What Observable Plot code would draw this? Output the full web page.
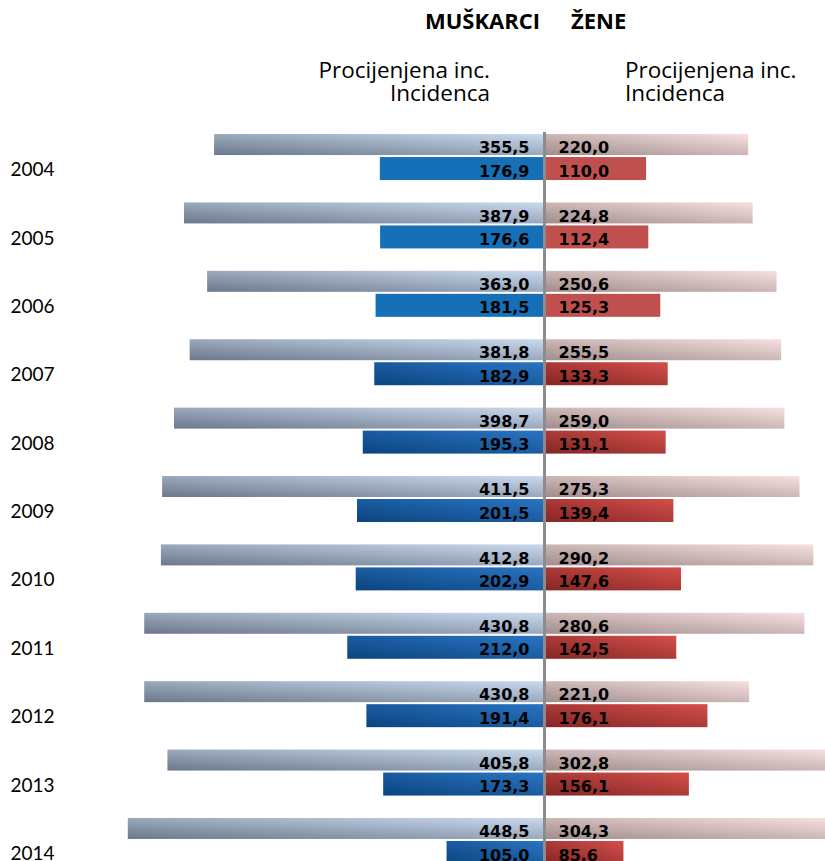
<!DOCTYPE html>
<html>
<head>
<meta charset="utf-8">
<script src="https://cdn.jsdelivr.net/npm/d3@7"></script>
<script src="https://cdn.jsdelivr.net/npm/@observablehq/plot@0.6"></script>
<style>
  html, body { margin: 0; padding: 0; background: #fff; }
  #head { position: relative; width: 825px; height: 125px; font-family: "Open Sans", Lato, sans-serif; color: #000; }
  #head div { position: absolute; white-space: nowrap; }
  .t { font-weight: bold; font-size: 22px; line-height: 22px; }
  .l { font-size: 22.5px; line-height: 23px; }
  #chart svg { display: block; }
</style>
</head>
<body>
<div id="head">
  <div class="t" style="right:285px; top:9px;">MUŠKARCI</div>
  <div class="t" style="left:571px; top:9px;">ŽENE</div>
  <div class="l" style="right:335px; top:58px; text-align:right;">Procijenjena inc.<br>Incidenca</div>
  <div class="l" style="left:625px; top:58px; text-align:left;">Procijenjena inc.<br>Incidenca</div>
</div>
<div id="chart"></div>
<script>
// ---- data ----
const years = [2004, 2005, 2006, 2007, 2008, 2009, 2010, 2011, 2012, 2013, 2014];
const menEstimated = [355.5, 387.9, 363.0, 381.8, 398.7, 411.5, 412.8, 430.8, 430.8, 405.8, 448.5];
const menIncidence = [176.9, 176.6, 181.5, 182.9, 195.3, 201.5, 202.9, 212.0, 191.4, 173.3, 105.0];
const womenEstimated = [220.0, 224.8, 250.6, 255.5, 259.0, 275.3, 290.2, 280.6, 221.0, 302.8, 304.3];
const womenIncidence = [110.0, 112.4, 125.3, 133.3, 131.1, 139.4, 147.6, 142.5, 176.1, 156.1, 85.6];

const rows = years.map((y, i) => ({
  year: y,
  menEst: menEstimated[i],
  menInc: menIncidence[i],
  womenEst: womenEstimated[i],
  womenInc: womenIncidence[i]
}));

const fmt = v => v.toFixed(1).replace(".", ",");

function defs() {
  const d = d3.create("svg:defs");
  const grad = (id, c0, c1) => {
    const g = d.append("linearGradient").attr("id", id)
      .attr("x1", 0).attr("y1", 1).attr("x2", 1).attr("y2", 0);
    g.append("stop").attr("offset", "0").attr("stop-color", c0);
    g.append("stop").attr("offset", "1").attr("stop-color", c1);
  };
  grad("gMenEst", "#6c788b", "#c9d9ee");
  grad("gWomenEst", "#a08c8c", "#f7e0e0");
  grad("gMenInc", "#0b447f", "#2a74c2");
  grad("gWomenInc", "#832624", "#d44e4a");
  return d.node();
}

const flat = d => d.year <= 2006;
const grad = d => d.year > 2006;

const EST_T = 0, EST_B = 25, INC_T = 23;
const labelFont = {fontFamily: "DejaVu Sans", fontWeight: "bold", fontSize: 16, fill: "#000"};

const chart = Plot.plot({
  width: 825,
  height: 741,
  marginTop: 7,
  marginBottom: 0,
  marginLeft: 0,
  marginRight: 0,
  x: {domain: [-586.2, 302.8], axis: null},
  y: {domain: years, axis: null, paddingInner: 0.3275, paddingOuter: 0.03, align: 0.5, round: false},
  marks: [
    defs,
    // men estimated
    Plot.barX(rows, {y: "year", x: d => -d.menEst, fill: "url(#gMenEst)", insetTop: EST_T, insetBottom: EST_B}),
    // women estimated
    Plot.barX(rows, {y: "year", x: "womenEst", fill: "url(#gWomenEst)", insetTop: EST_T, insetBottom: EST_B}),
    // men incidence
    Plot.barX(rows.filter(flat), {y: "year", x: d => -d.menInc, fill: "#1570b8", insetTop: INC_T}),
    Plot.barX(rows.filter(grad), {y: "year", x: d => -d.menInc, fill: "url(#gMenInc)", insetTop: INC_T}),
    // women incidence
    Plot.barX(rows.filter(flat), {y: "year", x: "womenInc", fill: "#c0504d", insetTop: INC_T}),
    Plot.barX(rows.filter(grad), {y: "year", x: "womenInc", fill: "url(#gWomenInc)", insetTop: INC_T}),
    // center line
    Plot.ruleX([0], {stroke: "#8c8c8c", strokeWidth: 3}),
    // value labels
    Plot.text(rows, {y: "year", x: () => 0, text: d => fmt(d.menEst), textAnchor: "end", dx: -15, dy: -9.5, ...labelFont}),
    Plot.text(rows, {y: "year", x: () => 0, text: d => fmt(d.menInc), textAnchor: "end", dx: -15, dy: 14, ...labelFont}),
    Plot.text(rows, {y: "year", x: () => 0, text: d => fmt(d.womenEst), textAnchor: "start", dx: 14, dy: -9.5, ...labelFont}),
    Plot.text(rows, {y: "year", x: () => 0, text: d => fmt(d.womenInc), textAnchor: "start", dx: 14, dy: 14, ...labelFont}),
    // year labels
    Plot.text(rows, {y: "year", text: d => String(d.year), frameAnchor: "left", textAnchor: "start", dx: 10, dy: 12.5,
      fontFamily: "Lato", fontSize: 19, fill: "#000"})
  ]
});
document.getElementById("chart").appendChild(chart);
</script>
</body>
</html>
